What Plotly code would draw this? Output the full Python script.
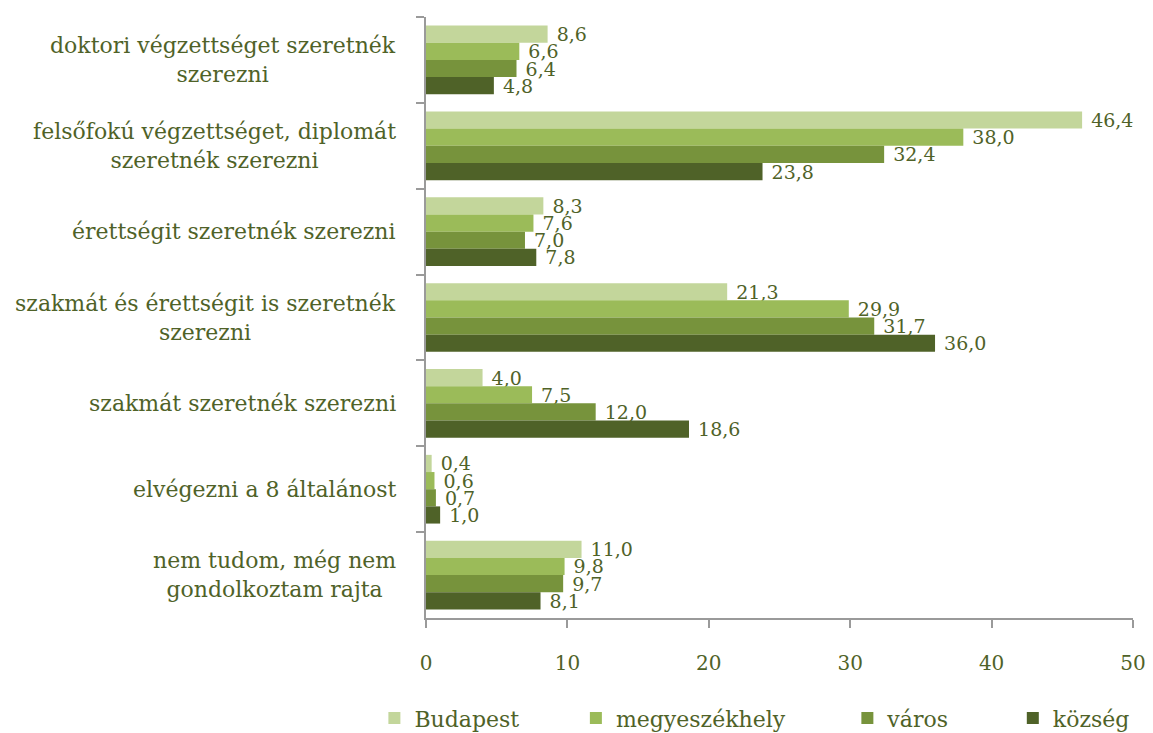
import plotly.graph_objects as go

categories = [
    "doktori végzettséget szeretnék<br>szerezni",
    "felsőfokú végzettséget, diplomát<br>szeretnék szerezni",
    "érettségit szeretnék szerezni",
    "szakmát és érettségit is szeretnék<br>szerezni",
    "szakmát szeretnék szerezni",
    "elvégezni a 8 általánost",
    "nem tudom, még nem<br>gondolkoztam rajta",
]
series_names = ["Budapest", "megyeszékhely", "város", "község"]
budapest = [8.6, 46.4, 8.3, 21.3, 4.0, 0.4, 11.0]
megyeszekhely = [6.6, 38.0, 7.6, 29.9, 7.5, 0.6, 9.8]
varos = [6.4, 32.4, 7.0, 31.7, 12.0, 0.7, 9.7]
kozseg = [4.8, 23.8, 7.8, 36.0, 18.6, 1.0, 8.1]
x_ticks = [0, 10, 20, 30, 40, 50]

colors = ["#c3d69b", "#9bbb59", "#77933c", "#4f6228"]
text_color = "#4f6228"
font_family = "DejaVu Serif, Liberation Serif, serif"

# page has 8px body margin; margins below compensate
ML, MR, MT, MB = 418, 28, 9, 123
legend_ids = ["legend", "legend2", "legend3", "legend4"]
legend_x = [-0.073, 0.212, 0.596, 0.830]

fig = go.Figure()
for name, vals, col, lg in zip(series_names, [budapest, megyeszekhely, varos, kozseg], colors, legend_ids):
    fig.add_trace(go.Bar(
        y=categories, x=vals, name=name, orientation="h",
        marker=dict(color=col, line=dict(width=0)),
        text=[" " + f"{v:.1f}".replace(".", ",") for v in vals],
        textposition="outside", constraintext="none", cliponaxis=False,
        textfont=dict(size=19, color=text_color, family=font_family),
        legend=lg,
    ))

for c in categories:
    fig.add_annotation(
        x=-0.04, xref="paper", y=c, yref="y", text=c, showarrow=False,
        xanchor="right", yanchor="middle", align="center",
        font=dict(size=22, color=text_color, family=font_family),
    )

legend_common = dict(
    orientation="h", yref="container", y=0.031, yanchor="middle", xanchor="left",
    font=dict(size=22, color=text_color, family=font_family),
    bgcolor="rgba(0,0,0,0)", itemwidth=30,
)
layout_legends = {}
for lg, lx in zip(legend_ids, legend_x):
    layout_legends[lg] = dict(legend_common, x=lx)

fig.update_layout(
    width=1153, height=733,
    margin=dict(l=ML, r=MR, t=MT, b=MB, autoexpand=False),
    barmode="group", bargap=0.2, bargroupgap=0,
    plot_bgcolor="white", paper_bgcolor="white",
    font=dict(family=font_family, color=text_color, size=20),
    showlegend=True,
    xaxis=dict(
        range=[0, 50], tickvals=x_ticks, showgrid=False, zeroline=False,
        showline=True, linecolor="#9a9a9a", linewidth=1.5,
        ticks="outside", ticklen=8, tickcolor="#9a9a9a", tickwidth=1.5,
        tickfont=dict(size=20, color=text_color, family=font_family),
        ticklabelstandoff=18,
    ),
    yaxis=dict(
        autorange="reversed", showticklabels=False, showgrid=False,
        showline=True, linecolor="#9a9a9a", linewidth=1.5,
        ticks="outside", ticklen=8, tickcolor="#9a9a9a", tickwidth=1.5,
        tickson="boundaries",
    ),
    **layout_legends,
)

fig.write_html("out.html")
